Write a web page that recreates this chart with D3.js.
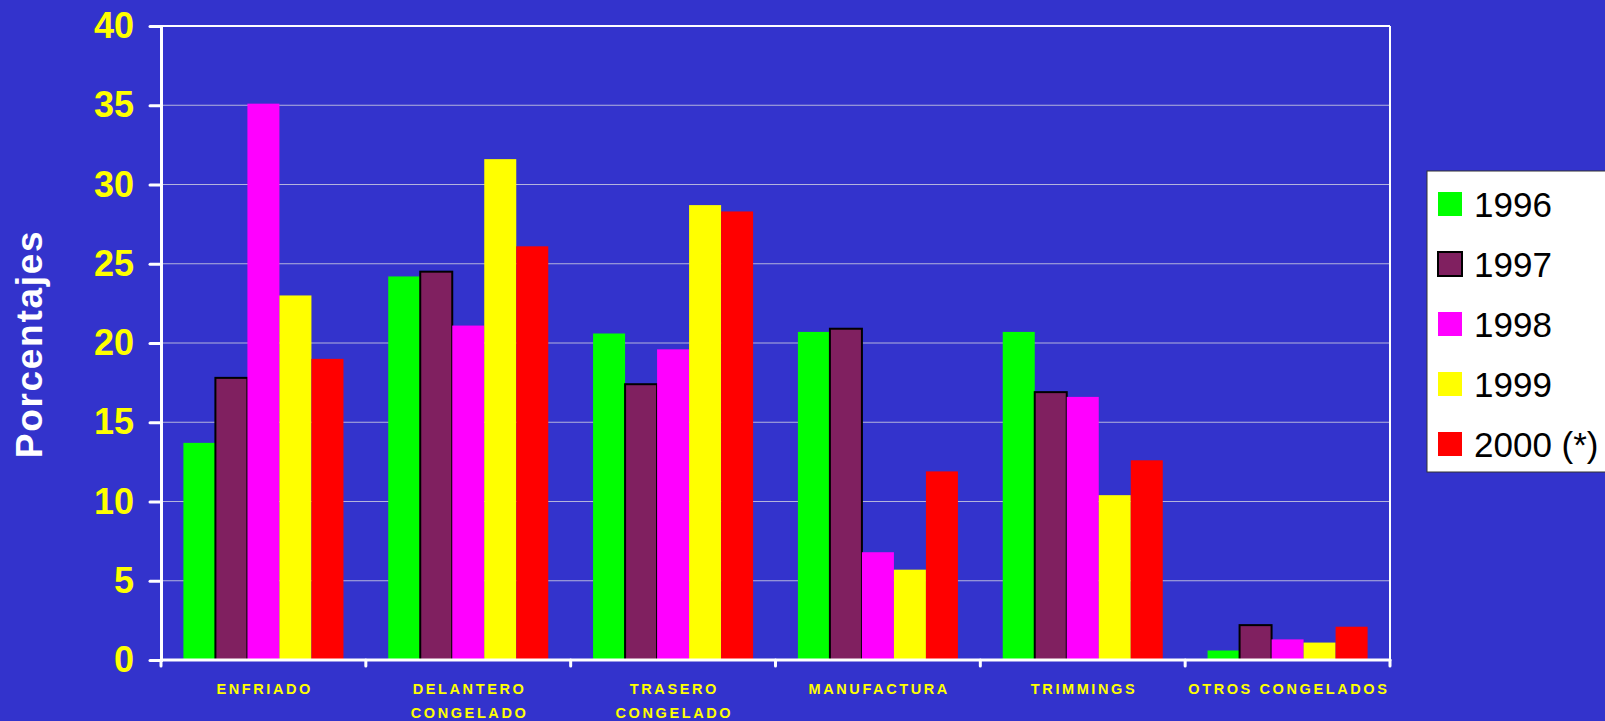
<!DOCTYPE html>
<html>
<head>
<meta charset="utf-8">
<script src="https://cdn.jsdelivr.net/npm/d3@7"></script>
<style>
  body { margin: 0; background: #3333cc; }
  svg { display: block; }
</style>
</head>
<body>
<svg id="chart" width="1605" height="721"></svg>
<script>
var categories = ["ENFRIADO", "DELANTERO CONGELADO", "TRASERO CONGELADO", "MANUFACTURA", "TRIMMINGS", "OTROS CONGELADOS"];
var catLines = [["ENFRIADO"], ["DELANTERO", "CONGELADO"], ["TRASERO", "CONGELADO"], ["MANUFACTURA"], ["TRIMMINGS"], ["OTROS CONGELADOS"]];
var years = ["1996", "1997", "1998", "1999", "2000 (*)"];
var v1996 = [13.7, 24.2, 20.6, 20.7, 20.7, 0.6];
var v1997 = [17.8, 24.5, 17.4, 20.9, 16.9, 2.2];
var v1998 = [35.1, 21.1, 19.6, 6.8, 16.6, 1.3];
var v1999 = [23.0, 31.6, 28.7, 5.7, 10.4, 1.1];
var v2000 = [19.0, 26.1, 28.3, 11.9, 12.6, 2.1];
var yTicks = [0, 5, 10, 15, 20, 25, 30, 35, 40];

var series = [v1996, v1997, v1998, v1999, v2000];
var colors = ["#00ff00", "#802060", "#ff00ff", "#ffff00", "#ff0000"];

var svg = d3.select("#chart");
var plotLeft = 161, plotRight = 1390, plotTop = 26, plotBottom = 660;

svg.append("rect").attr("width", 1605).attr("height", 721).attr("fill", "#3333cc");

var x0 = d3.scaleBand().domain(categories).range([plotLeft, plotRight]);
var x1 = d3.scaleBand().domain(years).range([0, x0.bandwidth()]).paddingOuter(0.7);
var y = d3.scaleLinear().domain([0, 40]).range([plotBottom, plotTop]);

// grid
svg.append("g").selectAll("line")
    .data(yTicks.filter(function(d) { return d > 0 && d < 40; }))
  .enter().append("line")
    .attr("x1", plotLeft).attr("x2", plotRight)
    .attr("y1", function(d) { return y(d); }).attr("y2", function(d) { return y(d); })
    .attr("stroke", "#b4b4dc").attr("stroke-width", 1);

// top + right border
svg.append("line").attr("x1", plotLeft).attr("x2", plotRight).attr("y1", y(40)).attr("y2", y(40))
    .attr("stroke", "#ffffff").attr("stroke-width", 2);
svg.append("line").attr("x1", plotRight).attr("x2", plotRight).attr("y1", y(40)).attr("y2", y(0))
    .attr("stroke", "#ffffff").attr("stroke-width", 2);

// bars
var rows = categories.map(function(c, i) {
  return years.map(function(yr, j) { return { cat: c, year: yr, value: series[j][i], j: j }; });
});

var groups = svg.append("g").selectAll("g")
    .data(rows)
  .enter().append("g")
    .attr("transform", function(d, i) { return "translate(" + x0(categories[i]) + ",0)"; });

groups.selectAll("rect")
    .data(function(d) { return d; })
  .enter().append("rect")
    .attr("x", function(d) { return x1(d.year); })
    .attr("y", function(d) { return y(d.value); })
    .attr("width", x1.bandwidth())
    .attr("height", function(d) { return y(0) - y(d.value); })
    .attr("fill", function(d) { return colors[d.j]; })
    .attr("stroke", function(d) { return d.j == 1 ? "#000000" : "none"; })
    .attr("stroke-width", 2);

// y axis
var yAxis = svg.append("g")
    .attr("transform", "translate(" + plotLeft + ",0)")
    .call(d3.axisLeft(y).tickValues(yTicks).tickSize(11).tickPadding(16));
yAxis.select(".domain").attr("stroke", "#ffffff").attr("stroke-width", 3);
yAxis.selectAll(".tick line").attr("stroke", "#ffffff").attr("stroke-width", 3).attr("stroke-linecap", "round");
yAxis.selectAll(".tick text")
    .attr("fill", "#ffff00")
    .style("font-family", "Liberation Sans, Arial, sans-serif")
    .style("font-weight", "bold")
    .style("font-size", "36px");

// x axis
svg.append("line").attr("x1", plotLeft).attr("x2", plotRight).attr("y1", plotBottom).attr("y2", plotBottom)
    .attr("stroke", "#ffffff").attr("stroke-width", 3).attr("stroke-linecap", "round");
var bounds = categories.map(function(c) { return x0(c); }).concat([plotRight]);
svg.append("g").selectAll("line")
    .data(bounds)
  .enter().append("line")
    .attr("x1", function(d) { return d; }).attr("x2", function(d) { return d; })
    .attr("y1", plotBottom).attr("y2", plotBottom + 6)
    .attr("stroke", "#ffffff").attr("stroke-width", 3).attr("stroke-linecap", "round");

var labels = svg.append("g").selectAll("text")
    .data(categories)
  .enter().append("text")
    .attr("text-anchor", "middle")
    .attr("fill", "#ffff00")
    .style("font-family", "Liberation Sans, Arial, sans-serif")
    .style("font-weight", "bold")
    .style("font-size", "14.5px")
    .style("letter-spacing", "2.6px");
labels.each(function(c, i) {
  var t = d3.select(this);
  catLines[i].forEach(function(line, k) {
    t.append("tspan")
      .attr("x", x0(c) + x0.bandwidth() / 2 + 1.3)
      .attr("y", 694 + k * 24)
      .text(line);
  });
});

// y title
svg.append("text")
    .attr("transform", "translate(42,344) rotate(-90)")
    .attr("text-anchor", "middle")
    .attr("fill", "#ffffff")
    .style("font-family", "Liberation Sans, Arial, sans-serif")
    .style("font-weight", "bold")
    .style("font-size", "37px")
    .style("letter-spacing", "1.7px")
    .text("Porcentajes");

// legend
var legend = svg.append("g");
legend.append("rect")
    .attr("x", 1427).attr("y", 171).attr("width", 190).attr("height", 301)
    .attr("fill", "#ffffff").attr("stroke", "#333333").attr("stroke-width", 1);
var items = legend.selectAll("g.item")
    .data(years)
  .enter().append("g")
    .attr("class", "item")
    .attr("transform", function(d, i) { return "translate(1438," + (204 + i * 60) + ")"; });
items.append("rect")
    .attr("x", 0).attr("y", -12).attr("width", 24).attr("height", 24)
    .attr("fill", function(d, i) { return colors[i]; })
    .attr("stroke", function(d, i) { return i == 1 ? "#000000" : "none"; })
    .attr("stroke-width", 2);
items.append("text")
    .attr("x", 36).attr("dy", "0.36em")
    .attr("fill", "#000000")
    .style("font-family", "Liberation Sans, Arial, sans-serif")
    .style("font-size", "35px")
    .text(function(d) { return d; });
</script>
</body>
</html>
